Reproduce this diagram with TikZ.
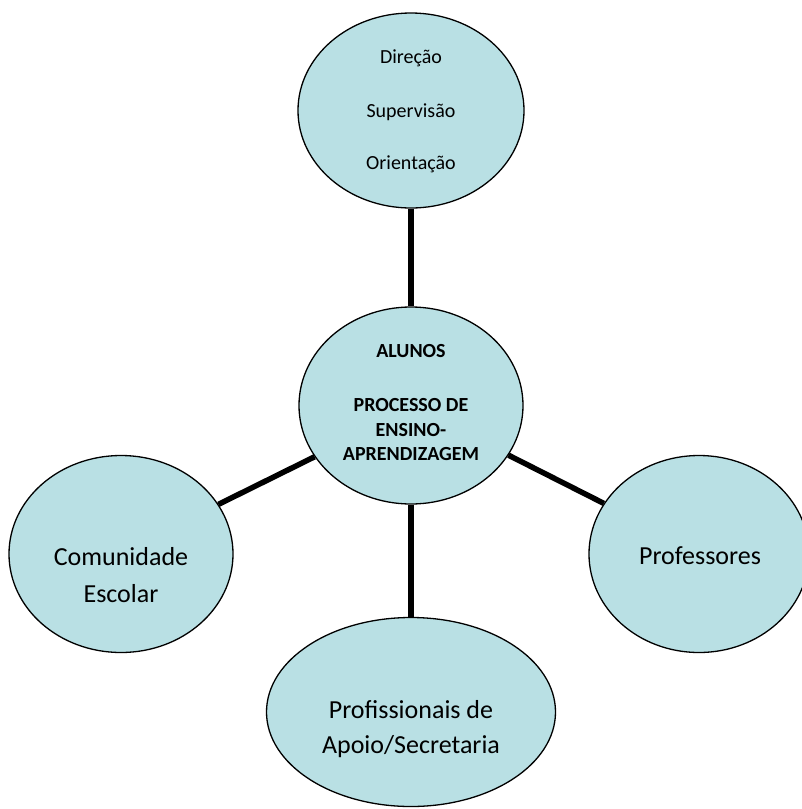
\documentclass[tikz,border=0pt]{standalone}
\usepackage{fontspec}
\setmainfont{Carlito}
\usetikzlibrary{shapes.geometric}
\definecolor{bubble}{RGB}{185,224,228}
\tikzset{
  bubble/.style={ellipse, draw=black, line width=1.3pt, fill=bubble, inner sep=0pt},
  link/.style={line width=5.5pt, black},
  small/.style={anchor=base, font=\fontsize{20}{24}\selectfont, inner sep=0pt},
  smallb/.style={anchor=base, font=\fontsize{20}{24}\selectfont\bfseries, inner sep=0pt},
  big/.style={anchor=base, font=\fontsize{26}{32}\selectfont, inner sep=0pt}
}
\begin{document}
\begin{tikzpicture}[x=1pt,y=-1pt]
\path[use as bounding box] (0,0) rectangle (802,809);
\clip (0,0) rectangle (802,809);
% ellipses
\node[bubble, minimum width=226pt, minimum height=195pt] (top) at (411,110.5) {};
\node[bubble, minimum width=224pt, minimum height=197pt] (mid) at (411,405.5) {};
\node[bubble, minimum width=224pt, minimum height=197pt] (left) at (121,554) {};
\node[bubble, minimum width=220pt, minimum height=197pt] (right) at (699,554) {};
\node[bubble, minimum width=289pt, minimum height=189pt] (bot) at (411,712) {};
% connectors
\draw[link] (top.south) -- (mid.north);
\draw[link] (mid.south) -- (bot.north);
\draw[link] (left.27.7) -- (mid.208.4);
\draw[link] (mid.-27.5) -- (right.152);
% texts
\node[small] (t1) at (411,63) {Direção};
\node[small] (t2) at (411,117) {Supervisão};
\node[small] (t3) at (411,169) {Orientação};
\node[smallb] (m1) at (411,357) {ALUNOS};
\node[smallb] (m2) at (411,411) {PROCESSO DE};
\node[smallb] (m3) at (411,436) {ENSINO-};
\node[smallb] (m4) at (411,460) {APRENDIZAGEM};
\node[big] (l1) at (121,565) {Comunidade};
\node[big] (l2) at (121,602) {Escolar};
\node[big] (r1) at (700,564) {Professores};
\node[big] (b1) at (411,718) {Profissionais de};
\node[big] (b2) at (411,753) {Apoio/Secretaria};
\end{tikzpicture}
\end{document}
